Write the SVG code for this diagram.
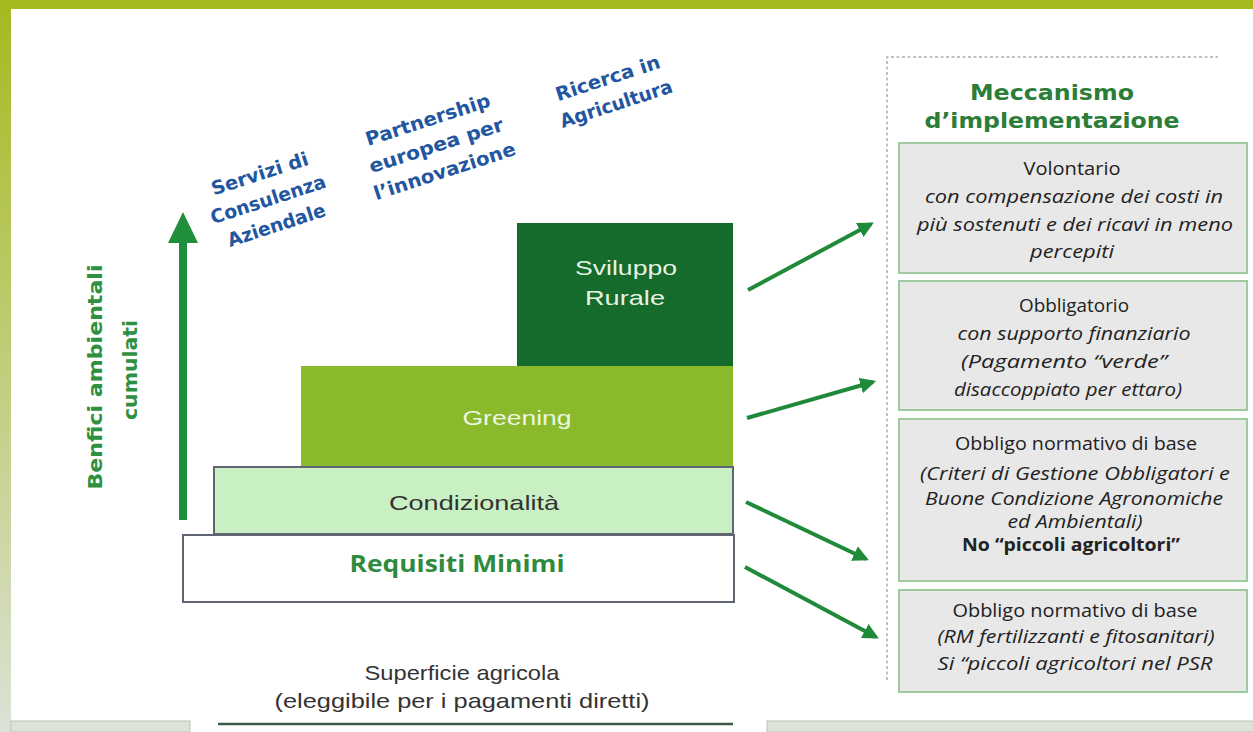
<svg xmlns="http://www.w3.org/2000/svg" width="1253" height="732" viewBox="0 0 1253 732">
<defs>
<linearGradient id="side" x1="0" y1="0" x2="0" y2="1">
<stop offset="0" stop-color="#a6b91f"/>
<stop offset="1" stop-color="#dbe2d6"/>
</linearGradient>
<marker id="ah" viewBox="0 0 10 10" refX="8" refY="5" markerWidth="4" markerHeight="4" orient="auto" markerUnits="strokeWidth">
<path d="M0,0 L10,5 L0,10 z" fill="#1f8a3a"/>
</marker>
<style>
.blue{font-family:"DejaVu Sans",sans-serif;font-weight:bold;font-size:19px;fill:#2356a0;text-anchor:middle}
.mech{font-family:"DejaVu Sans",sans-serif;font-weight:bold;font-size:22px;fill:#2c7d38;text-anchor:middle}
.axis{font-family:"DejaVu Sans",sans-serif;font-weight:bold;font-size:19px;fill:#2e9040;text-anchor:middle}
.box{fill:#e8e8e8;stroke:#9fcaa0;stroke-width:2}
.bt{font-family:"Open Sans",sans-serif;font-size:18px;fill:#222;text-anchor:middle}
.it{font-style:italic}
.bd{font-weight:bold}
.ar{font-family:"Liberation Sans",Arial,sans-serif;font-size:21px;text-anchor:middle}
.conn{stroke:#1f8a3a;stroke-width:4;fill:none;marker-end:url(#ah)}
</style>
</defs>
<rect x="0" y="0" width="1253" height="732" fill="#ffffff"/>
<rect x="0" y="0" width="11" height="732" fill="url(#side)"/>
<rect x="0" y="0" width="1253" height="9" fill="#a6b91f"/>
<rect x="11" y="721" width="179" height="11" fill="#dde3d8" stroke="#bcc4b6" stroke-width="1"/>
<rect x="767" y="721" width="490" height="11" fill="#dde3d8" stroke="#bcc4b6" stroke-width="1"/>

<g id="panel-border">
<path d="M887,680 L887,57 L1218,57" fill="none" stroke="#a9b3ad" stroke-width="1.5" stroke-dasharray="3,2.5"/>
</g>

<g id="y-axis">
<line x1="183" y1="520" x2="183" y2="240" stroke="#1f8f3c" stroke-width="8"/>
<path d="M168,243 L198,243 L183,212 z" fill="#1f8f3c"/>
<text class="axis" transform="translate(102,377) rotate(-90)" textLength="225" lengthAdjust="spacingAndGlyphs">Benfici ambientali</text>
<text class="axis" transform="translate(137,370) rotate(-90)" textLength="100" lengthAdjust="spacingAndGlyphs">cumulati</text>
</g>

<g id="label-servizi" transform="translate(268,199) rotate(-18)">
<text class="blue" x="0" y="-20" textLength="101" lengthAdjust="spacingAndGlyphs">Servizi di</text>
<text class="blue" x="0" y="7" textLength="120" lengthAdjust="spacingAndGlyphs">Consulenza</text>
<text class="blue" x="0" y="34" textLength="102" lengthAdjust="spacingAndGlyphs">Aziendale</text>
</g>
<g id="label-partnership" transform="translate(436,145) rotate(-18)">
<text class="blue" x="0" y="-20" textLength="130" lengthAdjust="spacingAndGlyphs">Partnership</text>
<text class="blue" x="0" y="7" textLength="140" lengthAdjust="spacingAndGlyphs">europea per</text>
<text class="blue" x="0" y="34" textLength="148" lengthAdjust="spacingAndGlyphs">l’innovazione</text>
</g>
<g id="label-ricerca" transform="translate(612,91) rotate(-18)">
<text class="blue" x="0" y="-7" textLength="109" lengthAdjust="spacingAndGlyphs">Ricerca in</text>
<text class="blue" x="0" y="20" textLength="117" lengthAdjust="spacingAndGlyphs">Agricultura</text>
</g>

<g id="sviluppo">
<rect x="517" y="223" width="216" height="143" fill="#156b2c"/>
<text class="ar" x="626" y="275" fill="#e8f2e4" textLength="102" lengthAdjust="spacingAndGlyphs">Sviluppo</text>
<text class="ar" x="625" y="305" fill="#e8f2e4" textLength="80" lengthAdjust="spacingAndGlyphs">Rurale</text>
</g>
<g id="greening">
<rect x="301" y="366" width="432" height="101" fill="#8aba2c"/>
<text class="ar" x="517" y="425" fill="#eef6e2" textLength="109" lengthAdjust="spacingAndGlyphs">Greening</text>
</g>
<g id="condizionalita">
<rect x="214" y="467" width="519" height="67" fill="#c9f0c2" stroke="#5f6672" stroke-width="2"/>
<text class="ar" x="474" y="510" fill="#333333" textLength="170" lengthAdjust="spacingAndGlyphs">Condizionalità</text>
</g>
<g id="requisiti">
<rect x="183" y="535" width="551" height="67" fill="#ffffff" stroke="#5f6672" stroke-width="2"/>
<text x="457" y="572" textLength="215" lengthAdjust="spacingAndGlyphs" style="font-family:'Open Sans',sans-serif;font-weight:bold;font-size:23px;fill:#2e8a3c;text-anchor:middle">Requisiti Minimi</text>
</g>

<g id="superficie">
<text class="ar" x="462" y="680" fill="#333333" textLength="195" lengthAdjust="spacingAndGlyphs">Superficie agricola</text>
<text class="ar" x="462" y="708" fill="#333333" textLength="375" lengthAdjust="spacingAndGlyphs">(eleggibile per i pagamenti diretti)</text>
<line x1="218" y1="724" x2="733" y2="724" stroke="#3d5a48" stroke-width="2.5"/>
</g>

<g id="heading">
<text class="mech" x="1052" y="100" textLength="164" lengthAdjust="spacingAndGlyphs">Meccanismo</text>
<text class="mech" x="1052" y="128" textLength="255" lengthAdjust="spacingAndGlyphs">d’implementazione</text>
</g>

<g id="box-volontario">
<rect class="box" x="899" y="143" width="348" height="130"/>
<text class="bt" x="1072" y="175" textLength="97" lengthAdjust="spacingAndGlyphs">Volontario</text>
<text class="bt it" x="1074" y="203" textLength="298" lengthAdjust="spacingAndGlyphs">con compensazione dei costi in</text>
<text class="bt it" x="1075" y="231" textLength="316" lengthAdjust="spacingAndGlyphs">più sostenuti e dei ricavi in meno</text>
<text class="bt it" x="1072" y="258" textLength="84" lengthAdjust="spacingAndGlyphs">percepiti</text>
</g>
<g id="box-obbligatorio">
<rect class="box" x="899" y="281" width="348" height="129"/>
<text class="bt" x="1074" y="312" textLength="110" lengthAdjust="spacingAndGlyphs">Obbligatorio</text>
<text class="bt it" x="1074" y="340" textLength="233" lengthAdjust="spacingAndGlyphs">con supporto finanziario</text>
<text class="bt it" x="1064" y="368" textLength="206" lengthAdjust="spacingAndGlyphs">(Pagamento “verde”</text>
<text class="bt it" x="1068" y="396" textLength="228" lengthAdjust="spacingAndGlyphs">disaccoppiato per ettaro)</text>
</g>
<g id="box-obbligo1">
<rect class="box" x="899" y="419" width="348" height="162"/>
<text class="bt" x="1076" y="450" textLength="242" lengthAdjust="spacingAndGlyphs">Obbligo normativo di base</text>
<text class="bt it" x="1075" y="480" textLength="310" lengthAdjust="spacingAndGlyphs">(Criteri di Gestione Obbligatori e</text>
<text class="bt it" x="1074" y="505" textLength="298" lengthAdjust="spacingAndGlyphs">Buone Condizione Agronomiche</text>
<text class="bt it" x="1075" y="528" textLength="135" lengthAdjust="spacingAndGlyphs">ed Ambientali)</text>
<text class="bt bd" x="1071" y="551" textLength="218" lengthAdjust="spacingAndGlyphs">No “piccoli agricoltori”</text>
</g>
<g id="box-obbligo2">
<rect class="box" x="899" y="590" width="348" height="102"/>
<text class="bt" x="1075" y="617" textLength="245" lengthAdjust="spacingAndGlyphs">Obbligo normativo di base</text>
<text class="bt it" x="1076" y="643" textLength="277" lengthAdjust="spacingAndGlyphs">(RM fertilizzanti e fitosanitari)</text>
<text class="bt it" x="1075" y="670" textLength="275" lengthAdjust="spacingAndGlyphs">Si “piccoli agricoltori nel PSR</text>
</g>

<g id="connectors">
<line class="conn" x1="748" y1="290" x2="871" y2="224"/>
<line class="conn" x1="747" y1="418" x2="873" y2="382"/>
<line class="conn" x1="746" y1="502" x2="866" y2="559"/>
<line class="conn" x1="745" y1="567" x2="876" y2="637"/>
</g>
</svg>
